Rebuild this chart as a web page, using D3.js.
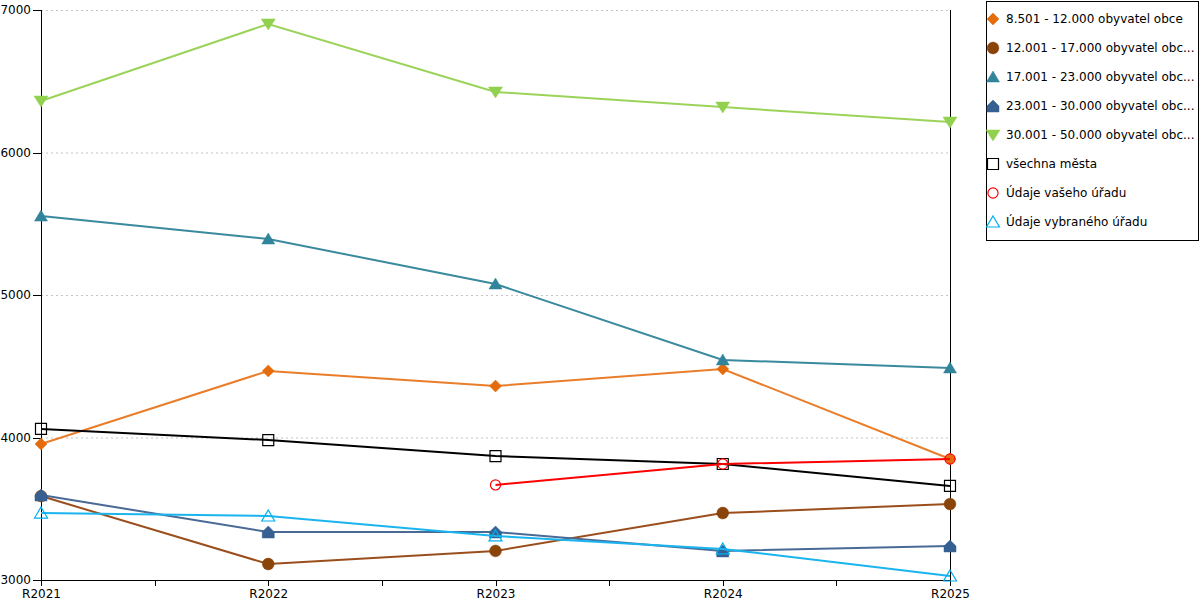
<!DOCTYPE html>
<html>
<head>
<meta charset="utf-8">
<script src="https://cdn.jsdelivr.net/npm/d3@7"></script>
<style>
  body { margin: 0; background: #fff; }
  text { font-family: "DejaVu Sans", Verdana, sans-serif; font-size: 12px; fill: #000; }
  .axis path, .axis line, .crisp { shape-rendering: crispEdges; stroke: #000; }
</style>
</head>
<body>
<div id="chart"></div>
<script>
var years = ["R2021", "R2022", "R2023", "R2024", "R2025"];
var yTicks = [3000, 4000, 5000, 6000, 7000];

var names = ["8.501 - 12.000 obyvatel obce", "12.001 - 17.000 obyvatel obc...", "17.001 - 23.000 obyvatel obc...",
             "23.001 - 30.000 obyvatel obc...", "30.001 - 50.000 obyvatel obc...", "všechna města",
             "Údaje vašeho úřadu", "Údaje vybraného úřadu"];

var s8501  = [3954, 4467, 4361, 4481, 3849];
var s12001 = [3589, 3112, 3204, 3470, 3533];
var s17001 = [5554, 5393, 5077, 4544, 4488];
var s23001 = [3596, 3337, 3337, 3204, 3239];
var s30001 = [6361, 6902, 6425, 6319, 6214];
var sAll   = [4060, 3982, 3870, 3814, 3660];
var sYours = [null, null, 3667, 3814, 3849];
var sChosen = [3470, 3449, 3309, 3218, 3028];

var allSeries = [s8501, s12001, s17001, s23001, s30001, sAll, sYours, sChosen];
var lineColors   = ["#e97d2a", "#9a4e1c", "#3a8a9e", "#4a6a96", "#9bd35a", "#000000", "#ff0000", "#1ab4ee"];
var markerColors = ["#e46c0a", "#8a4308", "#31849b", "#376092", "#92d050", "#000000", "#ff0000", "#00b0f0"];
var shapes = ["diamond", "circle", "triUp", "house", "triDown", "square", "ring", "triOpen"];

var svg = d3.select("#chart").append("svg")
    .attr("width", 1200)
    .attr("height", 600);

var x = d3.scalePoint().domain(years).range([41, 950]);
var y = d3.scaleLinear().domain([3000, 7000]).range([580, 10]);

//grid lines
svg.append("g").selectAll("line").data(yTicks.slice(1)).enter().append("line")
    .attr("x1", 41).attr("x2", 950)
    .attr("y1", function(d){ return y(d) + 0.5; }).attr("y2", function(d){ return y(d) + 0.5; })
    .attr("stroke", "#c4c4c4")
    .attr("stroke-dasharray", "2,3");

//right border
svg.append("line").classed("crisp", true)
    .attr("x1", 950.5).attr("x2", 950.5).attr("y1", y(7000)).attr("y2", y(3000));

//y axis
var yAxis = svg.append("g").classed("axis", true).attr("transform", "translate(41,0)")
    .call(d3.axisLeft(y).tickValues(yTicks).tickFormat(d3.format("d")).tickSize(8).tickPadding(2));
yAxis.select(".domain").attr("d", "M0.5," + y(7000) + "V" + y(3000));

//x axis
var xAxis = svg.append("g").classed("axis", true).attr("transform", "translate(0,580)")
    .call(d3.axisBottom(x).tickSize(6).tickPadding(3));
xAxis.select(".domain").attr("d", "M41,0.5H951");

//minor ticks between years
var mids = [];
for (var i = 0; i < years.length - 1; i++) {
    mids.push((x(years[i]) + x(years[i + 1])) / 2);
}
xAxis.selectAll(".minor").data(mids).enter().append("line")
    .attr("x1", function(d){ return d + 0.5; }).attr("x2", function(d){ return d + 0.5; })
    .attr("y1", 0).attr("y2", 6);

svg.selectAll(".tick text").style("font-family", "DejaVu Sans, Verdana, sans-serif").style("font-size", "12px");

function markerPath(shape) {
    switch (shape) {
        case "diamond": return "M0,-6L6,0L0,6L-6,0Z";
        case "circle": return d3.symbol(d3.symbolCircle, 110)();
        case "triUp": return "M0,-6L6.5,5L-6.5,5Z";
        case "house": return "M-6,6L6,6L6,0L0,-6L-6,0Z";
        case "triDown": return "M-7,-5L7,-5L0,6Z";
        case "square": return "M-5.5,-5.5H5.5V5.5H-5.5Z";
        case "ring": return d3.symbol(d3.symbolCircle, 80)();
        case "triOpen": return "M0,-6L6.5,5L-6.5,5Z";
    }
}
var hollow = { square: true, ring: true, triOpen: true };

function drawMarker(g, shape, col) {
    g.append("path")
        .attr("d", markerPath(shape))
        .attr("fill", hollow[shape] ? "none" : col)
        .attr("stroke", col)
        .attr("stroke-width", hollow[shape] ? 1.2 : 0.5);
}

var line = d3.line()
    .defined(function(d){ return d != null; })
    .x(function(d, i){ return x(years[i]); })
    .y(function(d){ return y(d); });

allSeries.forEach(function(vals, k) {
    svg.append("path")
        .attr("d", line(vals))
        .attr("fill", "none")
        .attr("stroke", lineColors[k])
        .attr("stroke-width", 2);
    vals.forEach(function(v, i) {
        if (v == null) return;
        var g = svg.append("g").attr("transform", "translate(" + x(years[i]) + "," + y(v) + ")");
        drawMarker(g, shapes[k], markerColors[k]);
    });
});

//legend
var legend = svg.append("g");
legend.append("rect").classed("crisp", true)
    .attr("x", 986.5).attr("y", 1.5).attr("width", 212).attr("height", 239)
    .attr("fill", "#fff");
names.forEach(function(n, k) {
    var ly = 19 + k * 29;
    var g = legend.append("g").attr("transform", "translate(993," + ly + ")");
    drawMarker(g, shapes[k], markerColors[k]);
    legend.append("text").attr("x", 1006).attr("y", ly + 4).text(n);
});
</script>
</body>
</html>
